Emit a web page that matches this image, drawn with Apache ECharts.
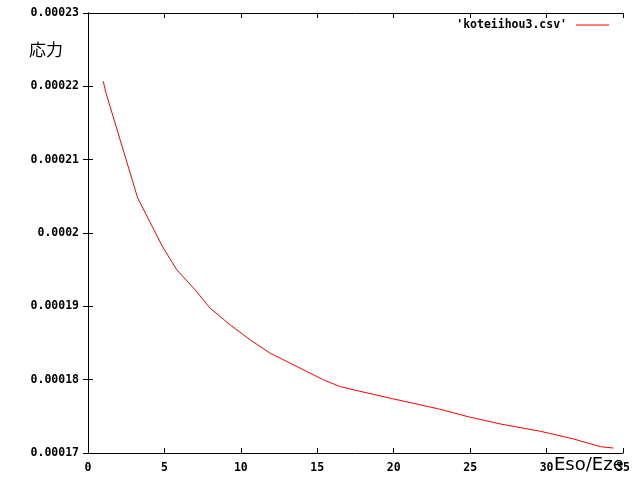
<!DOCTYPE html>
<html>
<head>
<meta charset="utf-8">
<script src="https://cdn.jsdelivr.net/npm/echarts@6/dist/echarts.min.js"></script>
<style>html,body{margin:0;padding:0;background:#fff}#c{width:640px;height:480px}</style>
</head>
<body>
<div id="c"></div>
<script>
var xValues = [1, 1.15, 3.25, 4.89, 5.81, 7.01, 7.99, 9.30, 10.61, 11.92, 13.67, 15.41, 16.5, 17.7, 19.78, 22.94, 25.02, 26.98, 29.6, 31.78, 33.53, 34.36];
var yValues = [0.00022069, 0.00021928, 0.00020477, 0.00019808, 0.00019498, 0.00019225, 0.00018975, 0.00018747, 0.00018543, 0.00018361, 0.00018178, 0.00017997, 0.00017905, 0.00017846, 0.00017747, 0.00017601, 0.00017487, 0.00017396, 0.00017296, 0.00017191, 0.00017086, 0.00017068];
var yTickLabels = ['0.00017', '0.00018', '0.00019', '0.0002', '0.00021', '0.00022', '0.00023'];
var xTickLabels = ['0', '5', '10', '15', '20', '25', '30', '35'];
var seriesName = "'koteiihou3.csv'";
var xName = 'Eso/Eze';
var yName = '応力';

var pts = xValues.map(function (x, i) { return [x, yValues[i]]; });
var tickFont = { fontFamily: 'DejaVu Sans Mono', fontWeight: 'bold', fontSize: 11.5, color: '#000' };
var chart = echarts.init(document.getElementById('c'), null, { renderer: 'canvas' });
chart.setOption({
  animation: false,
  backgroundColor: '#fff',
  grid: { left: 88, top: 13, width: 535, height: 440, containLabel: false },
  legend: {
    right: 31, top: 19, padding: 0, align: 'right', icon: 'rect', itemWidth: 33, itemHeight: 1, itemGap: 0,
    textStyle: { fontFamily: 'DejaVu Sans Mono', fontWeight: 'bold', fontSize: 11.5, color: '#000', padding: [0, 4, 0, 0] },
    data: [seriesName]
  },
  xAxis: [{
    type: 'value', min: 0, max: 35, interval: 5, position: 'bottom',
    axisLine: { lineStyle: { color: '#000', width: 1 } },
    axisTick: { inside: true, length: 5, lineStyle: { color: '#000' } },
    splitLine: { show: false },
    axisLabel: Object.assign({ margin: 9, formatter: function (v, i) { return xTickLabels[Math.round(v / 5)]; } }, tickFont)
  }, {
    type: 'value', min: 0, max: 35, interval: 5, position: 'top',
    axisLine: { lineStyle: { color: '#000', width: 1 } },
    axisTick: { inside: true, length: 5, lineStyle: { color: '#000' } },
    splitLine: { show: false }, axisLabel: { show: false }
  }],
  yAxis: [{
    type: 'value', min: 0.00017, max: 0.00023, interval: 0.00001, position: 'left',
    axisLine: { show: true, lineStyle: { color: '#000', width: 1 } },
    axisTick: { show: true, inside: true, length: 5, lineStyle: { color: '#000' } },
    splitLine: { show: false },
    axisLabel: Object.assign({ margin: 9, formatter: function (v) { return yTickLabels[Math.round(v * 100000) - 17]; } }, tickFont)
  }, {
    type: 'value', min: 0.00017, max: 0.00023, interval: 0.00001, position: 'right',
    axisLine: { show: true, lineStyle: { color: '#000', width: 1 } },
    axisTick: { show: true, inside: true, length: 5, lineStyle: { color: '#000' } },
    splitLine: { show: false }, axisLabel: { show: false }
  }],
  series: [{
    name: seriesName, type: 'line', data: pts, xAxisIndex: 0, yAxisIndex: 0,
    showSymbol: false, symbol: 'none', smooth: false,
    lineStyle: { color: '#ff0000', width: 1 }, itemStyle: { color: '#ff0000' }
  }],
  graphic: [
    { type: 'text', left: 29, top: 41, style: { text: yName, fontFamily: 'Noto Sans CJK JP', fontSize: 17, fill: '#000' } },
    { type: 'text', left: 554, top: 456, style: { text: xName, fontFamily: 'DejaVu Sans', fontWeight: 'normal', fontSize: 18, fill: '#000' } }
  ]
});
</script>
</body>
</html>
